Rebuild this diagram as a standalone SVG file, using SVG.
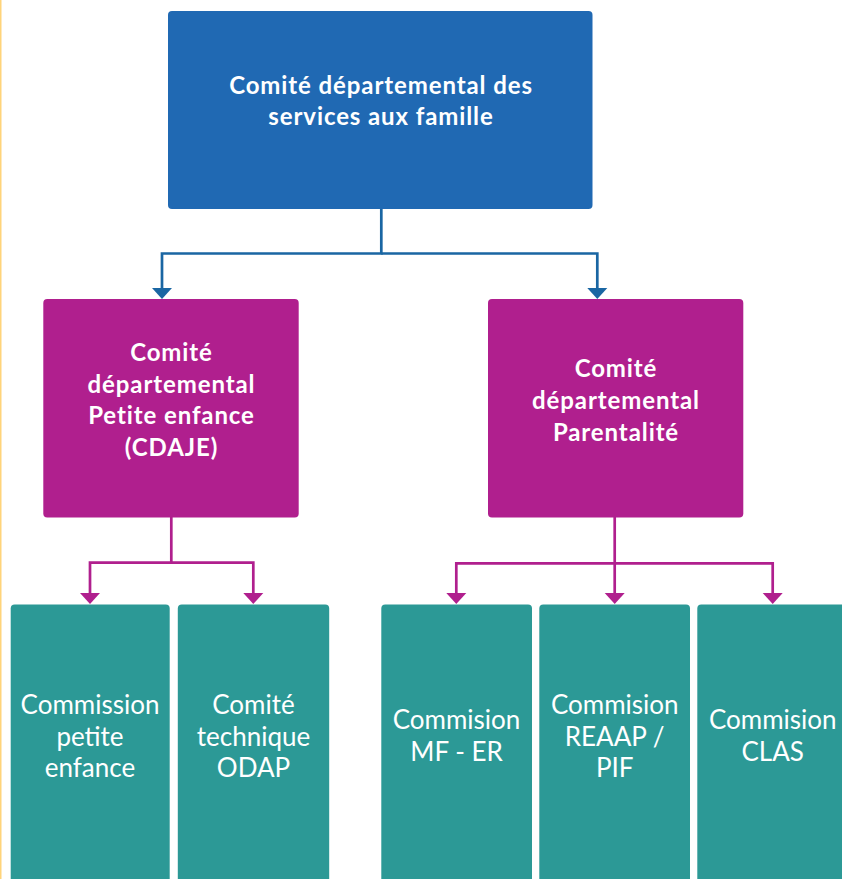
<svg xmlns="http://www.w3.org/2000/svg" width="842" height="879" viewBox="0 0 842 879">
<style>
.blue{fill:#2069b3}
.mag{fill:#b01f8e}
.teal{fill:#2c9996}
.tb{font-family:Lato,"Open Sans","DejaVu Sans",sans-serif;font-weight:bold;font-size:24px;letter-spacing:0.9px;fill:#fff;text-anchor:middle}
.tn{font-family:Lato,"Liberation Sans",sans-serif;font-weight:normal;font-size:26px;fill:#fff;text-anchor:middle}
.cb{fill:none;stroke:#1a66a3;stroke-width:2.7}
.cm{fill:none;stroke:#b01f8e;stroke-width:2.7}
</style>
<rect x="0" y="0" width="842" height="879" fill="#fff"/>
<rect x="0" y="0" width="1.5" height="879" fill="#ffd47a"/>
<g id="connectors">
<path class="cb" d="M381.3,209 V253.5 H162 V288"/>
<path class="cb" d="M381.3,253.5 H597.3 V288"/>
<path d="M152,288 L172,288 L162,299 Z" fill="#1a66a3"/>
<path d="M587.3,288 L607.3,288 L597.3,299 Z" fill="#1a66a3"/>
<path class="cm" d="M171.3,517 V562.7 H90 V593"/>
<path class="cm" d="M171.3,562.7 H253.3 V593"/>
<path d="M80,593 L100,593 L90,604 Z" fill="#b01f8e"/>
<path d="M243.3,593 L263.3,593 L253.3,604 Z" fill="#b01f8e"/>
<path class="cm" d="M614.7,517 V593"/>
<path class="cm" d="M456.3,593 V563.3 H772.7 V593"/>
<path d="M446.3,593 L466.3,593 L456.3,604 Z" fill="#b01f8e"/>
<path d="M604.7,593 L624.7,593 L614.7,604 Z" fill="#b01f8e"/>
<path d="M762.7,593 L782.7,593 L772.7,604 Z" fill="#b01f8e"/>
</g>
<g id="n-top">
<rect class="blue" x="168" y="11" width="424.5" height="198" rx="4"/>
<text class="tb" x="381" y="94">Comité départemental des</text>
<text class="tb" x="381" y="125">services aux famille</text>
</g>
<g id="n-cdaje">
<rect class="mag" x="43.3" y="299" width="255.4" height="218.5" rx="4"/>
<text class="tb" x="171.5" y="361">Comité</text>
<text class="tb" x="171.5" y="393">départemental</text>
<text class="tb" x="171.5" y="424">Petite enfance</text>
<text class="tb" x="171.5" y="456">(CDAJE)</text>
</g>
<g id="n-parent">
<rect class="mag" x="488" y="299" width="255.3" height="218.5" rx="4"/>
<text class="tb" x="616" y="377">Comité</text>
<text class="tb" x="616" y="409">départemental</text>
<text class="tb" x="616" y="441">Parentalité</text>
</g>
<g id="n-cpe">
<rect class="teal" x="10.7" y="604.5" width="159" height="290" rx="4"/>
<text class="tn" x="90" y="714">Commission</text>
<text class="tn" x="90" y="746">petite</text>
<text class="tn" x="90" y="777">enfance</text>
</g>
<g id="n-odap">
<rect class="teal" x="177.8" y="604.5" width="151.4" height="290" rx="4"/>
<text class="tn" x="253.5" y="714">Comité</text>
<text class="tn" x="253.5" y="746">technique</text>
<text class="tn" x="253.5" y="777">ODAP</text>
</g>
<g id="n-mfer">
<rect class="teal" x="381.3" y="604.5" width="150.7" height="290" rx="4"/>
<text class="tn" x="456.5" y="729">Commision</text>
<text class="tn" x="456.5" y="761">MF - ER</text>
</g>
<g id="n-reaap">
<rect class="teal" x="539.3" y="604.5" width="150.7" height="290" rx="4"/>
<text class="tn" x="614.7" y="714">Commision</text>
<text class="tn" x="614.7" y="746">REAAP /</text>
<text class="tn" x="614.7" y="777">PIF</text>
</g>
<g id="n-clas">
<rect class="teal" x="697.3" y="604.5" width="160" height="290" rx="4"/>
<text class="tn" x="772.7" y="729">Commision</text>
<text class="tn" x="772.7" y="761">CLAS</text>
</g>
</svg>
